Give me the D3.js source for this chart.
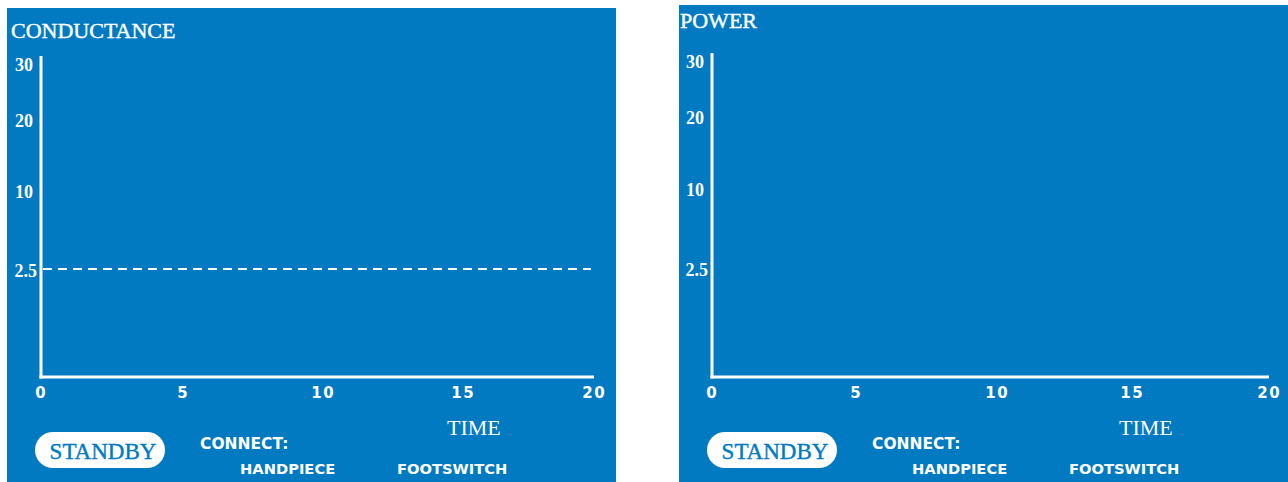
<!DOCTYPE html>
<html>
<head>
<meta charset="utf-8">
<script src="https://cdn.jsdelivr.net/npm/d3@7"></script>
<style>
  html, body { margin: 0; padding: 0; background: #ffffff; }
  svg { display: block; }
</style>
</head>
<body>
<div id="chart"></div>
<script>
// chart data
const panelTitles = ['CONDUCTANCE', 'POWER'];
const xTicks = [0, 5, 10, 15, 20];
const yTicks = [30, 20, 10, 2.5];
const thresholds = [[2.5], []];           // dashed limit, only on conductance
const xLabel = 'TIME';
const statusLabel = 'STANDBY';
const connectLabel = 'CONNECT:';
const connectItems = ['HANDPIECE', 'FOOTSWITCH'];

const W = 1288, H = 482;
const BLUE = '#017ac1';

// per-panel layout (screen positions of the tick stops)
const layout = [
  { x0: 7,   y0: 8, w: 609, title: [11, 38],
    xRange: [40, 182, 322, 462, 593], yRange: [377, 269, 190, 119, 63], yTop: 56 },
  { x0: 679, y0: 5, w: 609, title: [680, 28],
    xRange: [711, 855, 996, 1131, 1268], yRange: [377, 268, 188, 116, 60], yTop: 53 }
];

const svg = d3.select('#chart').append('svg')
  .attr('width', W)
  .attr('height', H);

panelTitles.forEach((title, i) => {
  const L = layout[i];
  const dx = L.x0 - layout[0].x0;   // horizontal shift of the footer block
  const g = svg.append('g').attr('class', 'panel');

  g.append('rect')
    .attr('x', L.x0)
    .attr('y', L.y0)
    .attr('width', L.w)
    .attr('height', H - L.y0)
    .attr('fill', BLUE);

  g.append('text')
    .attr('x', L.title[0])
    .attr('y', L.title[1])
    .attr('font-family', '"Liberation Serif", "DejaVu Serif", serif')
    .attr('font-size', '22px')
    .attr('stroke', '#ffffff')
    .attr('stroke-width', 0.4)
    .attr('fill', '#ffffff')
    .text(title);

  const x = d3.scaleLinear().domain(xTicks).range(L.xRange);
  const yDomain = [0].concat(yTicks.slice().reverse());
  const y = d3.scaleLinear().domain(yDomain).range(L.yRange);

  // x axis
  const xAxis = g.append('g')
    .attr('transform', `translate(0, ${y(0)})`)
    .call(d3.axisBottom(x).tickValues(xTicks).tickSize(0).tickSizeOuter(0).tickPadding(10));
  xAxis.select('.domain').remove();
  xAxis.selectAll('text')
    .attr('dx', '0.75px')
    .attr('font-family', '"DejaVu Sans", sans-serif')
    .attr('font-weight', 'bold')
    .attr('font-size', '15px')
    .attr('letter-spacing', '1.5px')
    .attr('fill', '#ffffff');

  // y axis
  const yAxis = g.append('g')
    .attr('transform', `translate(${x(0) + 1}, 0)`)
    .call(d3.axisLeft(y).tickValues(yTicks).tickFormat(d3.format('')).tickSize(0).tickPadding(8));
  yAxis.select('.domain').remove();
  yAxis.selectAll('text')
    .attr('dx', d => d === 2.5 ? 4 : 0)
    .attr('dy', '0.42em')
    .attr('font-family', '"Liberation Serif", "DejaVu Serif", serif')
    .attr('font-weight', 'bold')
    .attr('font-size', '18px')
    .attr('fill', '#ffffff');

  // axis lines
  g.append('line')
    .attr('x1', x(0) + 1).attr('x2', x(0) + 1)
    .attr('y1', y(0) + 1.5).attr('y2', L.yTop)
    .attr('stroke', '#ffffff')
    .attr('stroke-width', 3);
  g.append('line')
    .attr('x1', x(0) - 0.5).attr('x2', x(20) + 1)
    .attr('y1', y(0)).attr('y2', y(0))
    .attr('stroke', '#ffffff')
    .attr('stroke-width', 3);

  // threshold lines
  thresholds[i].forEach(v => {
    g.append('line')
      .attr('x1', x(0) + 3).attr('x2', x(20) - 2)
      .attr('y1', y(v)).attr('y2', y(v))
      .attr('stroke', '#ffffff')
      .attr('stroke-width', 2)
      .attr('stroke-dasharray', '9,6');
  });

  // axis title
  g.append('text')
    .attr('x', 447 + dx)
    .attr('y', 435)
    .attr('font-family', '"Liberation Serif", "DejaVu Serif", serif')
    .attr('font-size', '22px')
    .attr('fill', '#ffffff')
    .text(xLabel);

  // status pill
  g.append('rect')
    .attr('x', 35 + dx)
    .attr('y', 432)
    .attr('width', 130)
    .attr('height', 36)
    .attr('rx', 18)
    .attr('fill', '#ffffff');
  g.append('text')
    .attr('x', 103 + dx)
    .attr('y', 459)
    .attr('text-anchor', 'middle')
    .attr('font-family', '"Liberation Serif", "DejaVu Serif", serif')
    .attr('font-size', '23px')
    .attr('stroke', BLUE)
    .attr('stroke-width', 0.4)
    .attr('fill', BLUE)
    .text(statusLabel);

  // connection labels
  g.append('text')
    .attr('x', 200 + dx)
    .attr('y', 449)
    .attr('font-family', '"DejaVu Sans", sans-serif')
    .attr('font-weight', 'bold')
    .attr('font-size', '15.5px')
    .attr('fill', '#ffffff')
    .text(connectLabel);

  const itemX = [240, 397];
  connectItems.forEach((name, k) => {
    g.append('text')
      .attr('x', itemX[k] + dx)
      .attr('y', 474)
      .attr('font-family', '"DejaVu Sans", sans-serif')
      .attr('font-weight', 'bold')
      .attr('font-size', '14.7px')
      .attr('fill', '#ffffff')
      .text(name);
  });
});
</script>
</body>
</html>
